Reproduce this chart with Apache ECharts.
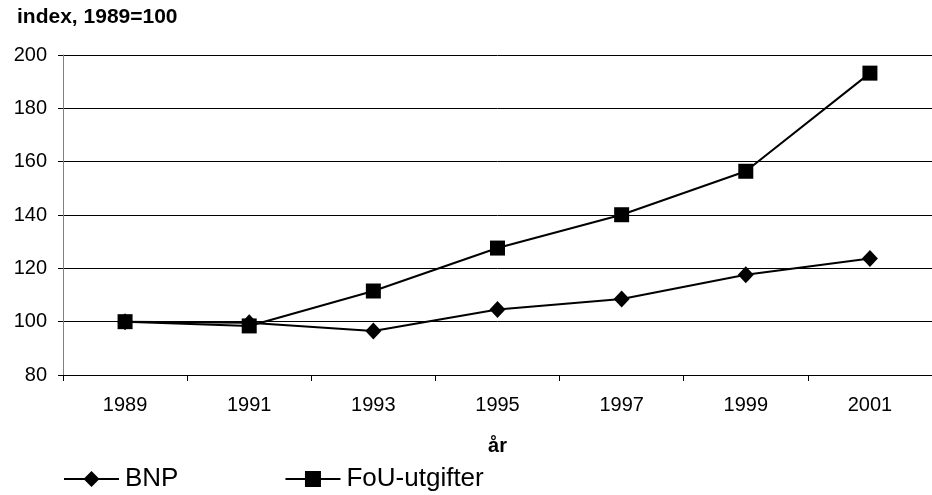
<!DOCTYPE html>
<html>
<head>
<meta charset="utf-8">
<script src="https://cdn.jsdelivr.net/npm/echarts@6/dist/echarts.min.js"></script>
<style>
  html, body { margin: 0; padding: 0; background: #fff; }
  #chart { width: 932px; height: 495px; }
</style>
</head>
<body>
<div id="chart"></div>
<script>
// år
var years = ['1989', '1991', '1993', '1995', '1997', '1999', '2001'];
// index, 1989=100
var bnp = [100, 99.6, 96.5, 104.6, 108.5, 117.6, 123.7];
var fou = [100, 98.4, 111.5, 127.6, 140.1, 156.4, 193.2];

var font = 'Liberation Sans, Arial, sans-serif';

var chart = echarts.init(document.getElementById('chart'));
chart.setOption({
  animation: false,
  textStyle: { fontFamily: font, color: '#000' },
  title: {
    text: 'index, 1989=100',
    left: 17, top: 7, padding: 0,
    textStyle: { fontFamily: font, fontSize: 21, fontWeight: 'bold', color: '#000' }
  },
  grid: { left: 63, right: 0, top: 55, bottom: 120 },
  legend: {
    left: 63, top: 466, padding: 0,
    itemWidth: 55, itemHeight: 20, itemGap: 106,
    lineStyle: { width: 2, color: '#000' },
    textStyle: { fontFamily: font, fontSize: 26, color: '#000', padding: [0, 0, 0, 1] },
    data: ['BNP', 'FoU-utgifter']
  },
  xAxis: {
    type: 'category',
    data: years,
    boundaryGap: true,
    name: 'år',
    nameLocation: 'middle',
    nameGap: 61,
    nameTextStyle: { fontFamily: font, fontSize: 20, fontWeight: 'bold', color: '#000' },
    axisLine: { lineStyle: { color: '#000', width: 1 } },
    axisTick: { show: true, length: 6, inside: false, lineStyle: { color: '#000' } },
    axisLabel: { fontFamily: font, fontSize: 20, color: '#000', margin: 20 }
  },
  yAxis: {
    type: 'value',
    min: 80, max: 200, interval: 20,
    axisLine: { show: true, lineStyle: { color: '#808080', width: 1 } },
    axisTick: { show: true, length: 5, lineStyle: { color: '#000' } },
    axisLabel: { fontFamily: font, fontSize: 20, color: '#000', margin: 16 },
    splitLine: { lineStyle: { color: '#000', width: 1 } }
  },
  series: [
    {
      name: 'BNP', type: 'line', data: bnp,
      symbol: 'diamond', symbolSize: [16, 17],
      lineStyle: { color: '#000', width: 2 },
      itemStyle: { color: '#000' }
    },
    {
      name: 'FoU-utgifter', type: 'line', data: fou,
      symbol: 'rect', symbolSize: 15,
      lineStyle: { color: '#000', width: 2 },
      itemStyle: { color: '#000' }
    }
  ]
});
</script>
</body>
</html>
